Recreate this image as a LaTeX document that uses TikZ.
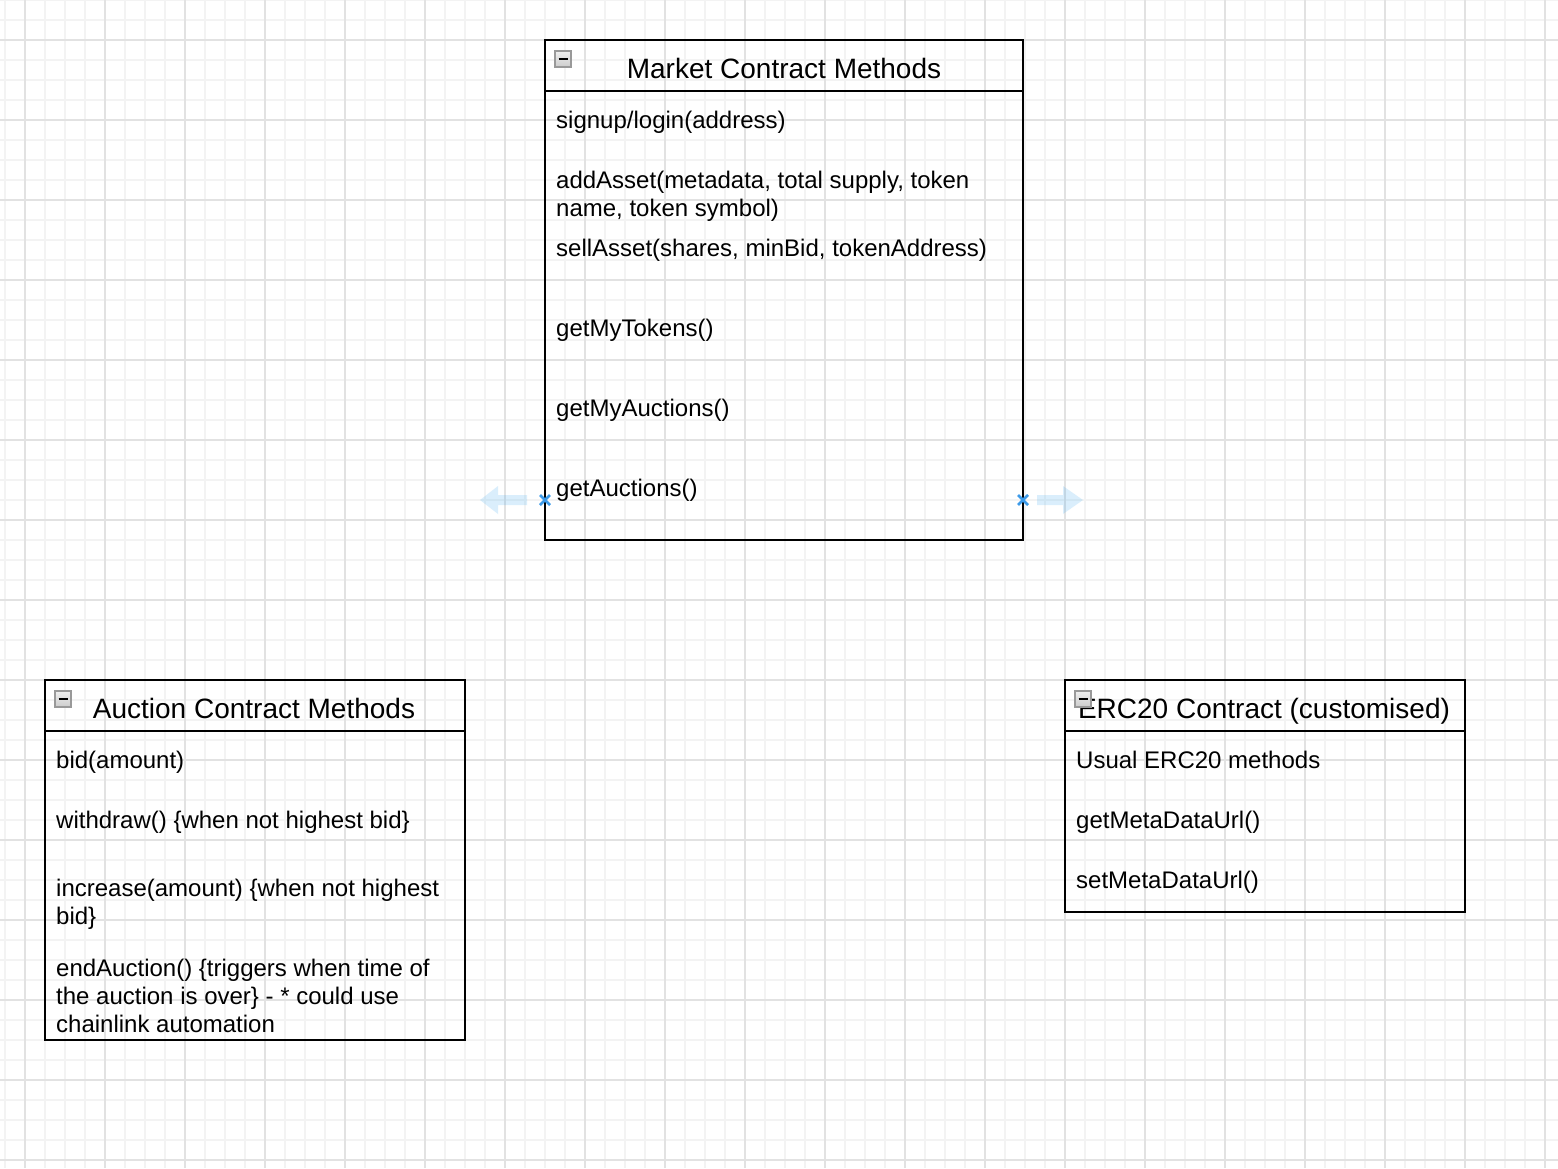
\documentclass[tikz,border=0pt]{standalone}
\usepackage{fontspec}
\setmainfont{Liberation Sans}
\usepackage{xcolor}
\usepackage{tikz}

\definecolor{gridminor}{HTML}{F3F3F3}
\definecolor{gridmajor}{HTML}{E2E2E2}
\definecolor{handleblue}{HTML}{3D9BE9}
\definecolor{hoverblue}{HTML}{29A0F0}

\tikzset{
    classbox/.style={draw=black, line width=2pt, inner sep=0pt},
    headtext/.style={anchor=base, inner sep=0pt, font=\fontsize{28}{32}\selectfont},
    bodytext/.style={anchor=base west, inner sep=0pt, font=\fontsize{24}{28}\selectfont},
    minusbox/.style={draw=gray!80, line width=1.4pt, minimum size=16pt, inner sep=0pt,
        top color=gray!12, bottom color=gray!40},
    minusbar/.style={draw=black, line width=2pt},
    hoverarrow/.style={fill=hoverblue, fill opacity=0.17},
    handlemark/.style={draw=handleblue, line width=2.6pt}
}

\begin{document}
\begin{tikzpicture}[x=1pt, y=-1pt]
    \useasboundingbox (0,0) rectangle (1558,1168);
    \fill[white] (0,0) rectangle (1558,1168);

    % background grid
    \draw[gridminor, line width=2pt, step=20pt, xshift=5pt] (-5,1168) grid (1553,0);
    \draw[gridmajor, line width=2pt, step=80pt, xshift=25pt, yshift=-40pt] (-25,1128) grid (1533,-40);

    % market contract
    \node[classbox, minimum width=478pt, minimum height=500pt] (market) at (784,290) {};
    \draw[line width=2pt] ([yshift=-52pt]market.north west) -- ([yshift=-52pt]market.north east);
    \node[headtext] (markethead) at (784,78) {Market Contract Methods};
    \node[minusbox] (marketicon) at (563,59) {};
    \draw[minusbar] ([xshift=-4.5pt]marketicon.center) -- ([xshift=4.5pt]marketicon.center);
    \node[bodytext] (m1) at (556,128) {signup/login(address)};
    \node[bodytext] (m2) at (556,188) {addAsset(metadata, total supply, token};
    \node[bodytext] (m2b) at (556,216) {name, token symbol)};
    \node[bodytext] (m3) at (556,256) {sellAsset(shares, minBid, tokenAddress)};
    \node[bodytext] (m4) at (556,336) {getMyTokens()};
    \node[bodytext] (m5) at (556,416) {getMyAuctions()};
    \node[bodytext] (m6) at (556,496) {getAuctions()};

    % auction contract
    \node[classbox, minimum width=420pt, minimum height=360pt] (auction) at (255,860) {};
    \draw[line width=2pt] ([yshift=-52pt]auction.north west) -- ([yshift=-52pt]auction.north east);
    \node[headtext] (auctionhead) at (254,718) {Auction Contract Methods};
    \node[minusbox] (auctionicon) at (63,699) {};
    \draw[minusbar] ([xshift=-4.5pt]auctionicon.center) -- ([xshift=4.5pt]auctionicon.center);
    \node[bodytext] (a1) at (56,768) {bid(amount)};
    \node[bodytext] (a2) at (56,828) {withdraw() \{when not highest bid\}};
    \node[bodytext] (a3) at (56,896) {increase(amount) \{when not highest};
    \node[bodytext] (a3b) at (56,924) {bid\}};
    \node[bodytext] (a4) at (56,976) {endAuction() \{triggers when time of};
    \node[bodytext] (a4b) at (56,1004) {the auction is over\} - * could use};
    \node[bodytext] (a4c) at (56,1032) {chainlink automation};

    % erc20 contract
    \node[classbox, minimum width=400pt, minimum height=232pt] (erc) at (1265,796) {};
    \draw[line width=2pt] ([yshift=-52pt]erc.north west) -- ([yshift=-52pt]erc.north east);
    \node[headtext] (erchead) at (1264,718) {ERC20 Contract (customised)};
    \node[minusbox] (ercicon) at (1083,699) {};
    \draw[minusbar] ([xshift=-4.5pt]ercicon.center) -- ([xshift=4.5pt]ercicon.center);
    \node[bodytext] (e1) at (1076,768) {Usual ERC20 methods};
    \node[bodytext] (e2) at (1076,828) {getMetaDataUrl()};
    \node[bodytext] (e3) at (1076,888) {setMetaDataUrl()};

    % hover handles
    \coordinate (lhandle) at (545,500);
    \coordinate (rhandle) at (1023,500);
    \fill[hoverarrow, shift={(lhandle)}] (-18,-5) -- (-47,-5) -- (-47,-14) -- (-65,0) -- (-47,14) -- (-47,5) -- (-18,5) -- cycle;
    \fill[hoverarrow, shift={(rhandle)}] (14,-5) -- (40,-5) -- (40,-14) -- (60,0) -- (40,14) -- (40,5) -- (14,5) -- cycle;
    \draw[handlemark, shift={(lhandle)}] (-5,-5) -- (5,5) (-5,5) -- (5,-5);
    \draw[handlemark, shift={(rhandle)}] (-5,-5) -- (5,5) (-5,5) -- (5,-5);
\end{tikzpicture}
\end{document}
